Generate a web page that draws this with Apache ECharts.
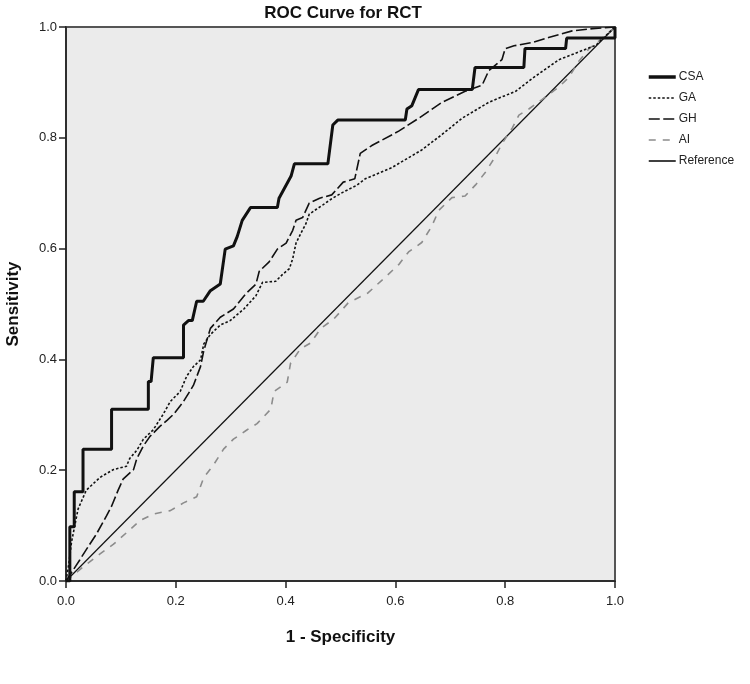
<!DOCTYPE html>
<html>
<head>
<meta charset="utf-8">
<script src="https://cdn.jsdelivr.net/npm/echarts@6/dist/echarts.min.js"></script>
<style>html,body{margin:0;padding:0;background:#fff;}#c{width:750px;height:684px;}</style>
</head>
<body>
<div id="c"></div>
<script>
const seriesNames = ['CSA', 'GA', 'GH', 'AI', 'Reference'];
const xTicks = [0, 0.2, 0.4, 0.6, 0.8, 1.0];
const yTicks = [0, 0.2, 0.4, 0.6, 0.8, 1.0];

const csa = [[0,0],[0.007,0],[0.007,0.098],[0.015,0.098],[0.015,0.161],[0.031,0.161],[0.031,0.238],[0.083,0.238],[0.083,0.31],[0.15,0.31],[0.15,0.36],[0.155,0.36],[0.159,0.403],[0.214,0.403],[0.214,0.462],[0.223,0.47],[0.23,0.47],[0.238,0.505],[0.25,0.505],[0.263,0.524],[0.281,0.536],[0.29,0.599],[0.305,0.605],[0.312,0.622],[0.321,0.651],[0.336,0.674],[0.385,0.674],[0.388,0.691],[0.41,0.731],[0.416,0.753],[0.477,0.753],[0.486,0.823],[0.495,0.832],[0.618,0.832],[0.621,0.852],[0.63,0.858],[0.642,0.887],[0.74,0.887],[0.745,0.927],[0.834,0.927],[0.836,0.961],[0.91,0.961],[0.912,0.98],[1,0.98],[1,1]];

const ga = [[0,0],[0.005,0.03],[0.01,0.07],[0.022,0.13],[0.037,0.164],[0.062,0.187],[0.086,0.201],[0.11,0.207],[0.116,0.221],[0.129,0.236],[0.141,0.256],[0.159,0.273],[0.177,0.301],[0.19,0.324],[0.208,0.342],[0.22,0.37],[0.232,0.387],[0.245,0.399],[0.251,0.428],[0.263,0.445],[0.281,0.462],[0.299,0.47],[0.324,0.491],[0.346,0.515],[0.358,0.539],[0.382,0.541],[0.394,0.553],[0.407,0.564],[0.413,0.582],[0.419,0.61],[0.428,0.628],[0.437,0.645],[0.443,0.662],[0.456,0.671],[0.468,0.679],[0.484,0.69],[0.505,0.702],[0.529,0.714],[0.545,0.726],[0.593,0.746],[0.648,0.778],[0.685,0.806],[0.721,0.835],[0.77,0.864],[0.819,0.884],[0.849,0.907],[0.898,0.941],[0.934,0.955],[0.965,0.967],[1,1]];

const gh = [[0,0],[0.025,0.038],[0.043,0.066],[0.055,0.084],[0.074,0.118],[0.083,0.135],[0.095,0.164],[0.104,0.184],[0.123,0.201],[0.129,0.221],[0.141,0.244],[0.153,0.261],[0.171,0.279],[0.184,0.29],[0.196,0.301],[0.214,0.324],[0.232,0.353],[0.245,0.387],[0.251,0.416],[0.263,0.456],[0.281,0.476],[0.305,0.491],[0.327,0.518],[0.346,0.536],[0.352,0.559],[0.37,0.576],[0.385,0.599],[0.401,0.61],[0.413,0.633],[0.419,0.651],[0.431,0.656],[0.443,0.682],[0.462,0.691],[0.484,0.697],[0.505,0.72],[0.526,0.726],[0.536,0.772],[0.557,0.786],[0.606,0.812],[0.642,0.835],[0.685,0.864],[0.727,0.884],[0.758,0.895],[0.77,0.921],[0.794,0.941],[0.8,0.961],[0.816,0.966],[0.849,0.972],[0.879,0.981],[0.922,0.993],[0.959,0.997],[1,1]];

const ai = [[0,0],[0.037,0.03],[0.062,0.049],[0.086,0.066],[0.11,0.087],[0.135,0.109],[0.159,0.121],[0.19,0.127],[0.214,0.141],[0.238,0.152],[0.251,0.187],[0.269,0.21],[0.287,0.238],[0.305,0.256],[0.33,0.273],[0.348,0.284],[0.373,0.31],[0.379,0.342],[0.403,0.359],[0.409,0.393],[0.427,0.419],[0.446,0.43],[0.464,0.456],[0.488,0.473],[0.514,0.502],[0.55,0.52],[0.581,0.548],[0.606,0.571],[0.624,0.594],[0.648,0.611],[0.666,0.64],[0.679,0.669],[0.703,0.692],[0.727,0.695],[0.746,0.715],[0.764,0.738],[0.782,0.766],[0.794,0.789],[0.813,0.818],[0.825,0.841],[0.843,0.852],[0.867,0.869],[0.898,0.892],[0.916,0.909],[0.934,0.938],[0.953,0.961],[0.971,0.975],[1,1]];

const reference = [[0,0],[1,1]];

const FONT = '"Liberation Sans", Arial, sans-serif';
const chart = echarts.init(document.getElementById('c'), null, {renderer: 'canvas'});

function mk(name, data, color, width, type, z) {
  return {
    name: name, type: 'line', data: data, showSymbol: false, symbol: 'none',
    animation: false, z: z, silent: true,
    lineStyle: {color: color, width: width, type: type},
    itemStyle: {color: color}
  };
}

const legendWidths = {CSA: 3.5, GA: 1.6, GH: 1.6, AI: 1.6, Reference: 1.6};

chart.setOption({
  backgroundColor: '#ffffff',
  animation: false,
  title: {
    text: 'ROC Curve for RCT', left: 338, top: 0, textAlign: 'center',
    textStyle: {fontFamily: FONT, fontSize: 17, fontWeight: 'bold', color: '#111'}
  },
  legend: {
    orient: 'vertical', left: 642, top: 66, itemWidth: 27, itemHeight: 14, itemGap: 9,
    data: seriesNames.map(n => ({name: n, lineStyle: {width: legendWidths[n]}})),
    itemStyle: {opacity: 0},
    textStyle: {fontFamily: FONT, fontSize: 12, color: '#222', padding: [0, 0, 0, -2]}
  },
  grid: {
    left: 66, right: 135, top: 27, bottom: 103, outerBoundsMode: 'none', containLabel: false,
    show: true, backgroundColor: '#ebebeb', borderColor: '#555', borderWidth: 2
  },
  xAxis: {
    type: 'value', min: 0, max: 1, interval: 0.2,
    name: '1 - Specificity', nameLocation: 'middle', nameGap: 48,
    nameTextStyle: {fontFamily: FONT, fontSize: 17, fontWeight: 'bold', color: '#111'},
    axisLine: {show: true, lineStyle: {color: '#222', width: 1.5}},
    axisTick: {show: true, inside: false, length: 7, lineStyle: {color: '#222', width: 1.5}},
    axisLabel: {fontFamily: FONT, fontSize: 13, color: '#222', margin: 14,
      formatter: v => xTicks.indexOf(v) >= 0 ? v.toFixed(1) : ''},
    splitLine: {show: false}
  },
  yAxis: {
    type: 'value', min: 0, max: 1, interval: 0.2,
    name: 'Sensitivity', nameLocation: 'middle', nameGap: 44,
    nameTextStyle: {fontFamily: FONT, fontSize: 17, fontWeight: 'bold', color: '#111'},
    axisLine: {show: true, lineStyle: {color: '#222', width: 1.5}},
    axisTick: {show: true, inside: false, length: 7, lineStyle: {color: '#222', width: 1.5}},
    axisLabel: {fontFamily: FONT, fontSize: 13, color: '#222', margin: 9,
      formatter: v => yTicks.indexOf(v) >= 0 ? v.toFixed(1) : ''},
    splitLine: {show: false}
  },
  series: [
    mk('CSA', csa, '#111111', 3, 'solid', 6),
    mk('GA', ga, '#111111', 1.6, [2.5, 2], 5),
    mk('GH', gh, '#111111', 1.6, [11, 3.5], 5),
    mk('AI', ai, '#8c8c8c', 1.6, [7, 7], 4),
    mk('Reference', reference, '#111111', 1.2, 'solid', 3)
  ]
});
</script>
</body>
</html>
